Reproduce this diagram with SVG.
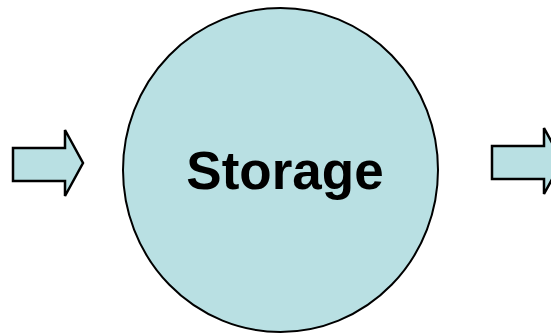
<svg xmlns="http://www.w3.org/2000/svg" width="551" height="334" viewBox="0 0 551 334">
<style>
.shape{fill:#b9e0e3;stroke:#000;stroke-width:2}
.arrow{fill:#b9e0e3;stroke:#000;stroke-width:2.5;stroke-linejoin:miter}
.label{font-family:"Liberation Sans",Arial,sans-serif;font-weight:bold;font-size:53px;fill:#000}
</style>
<rect width="551" height="334" fill="#fff"/>
<g id="storage">
<ellipse class="shape" cx="280.5" cy="170" rx="157.5" ry="162"/>
<text class="label" x="285" y="189" text-anchor="middle">Storage</text>
</g>
<g id="connectors">
<g id="arrow-in"><polygon class="arrow" points="13,148 65,148 65,130 83,163 65,196 65,181 13,181"/></g>
<g id="arrow-out"><polygon class="arrow" transform="translate(479,-2)" points="13,148 65,148 65,130 83,163 65,196 65,181 13,181"/></g>
</g>
</svg>
